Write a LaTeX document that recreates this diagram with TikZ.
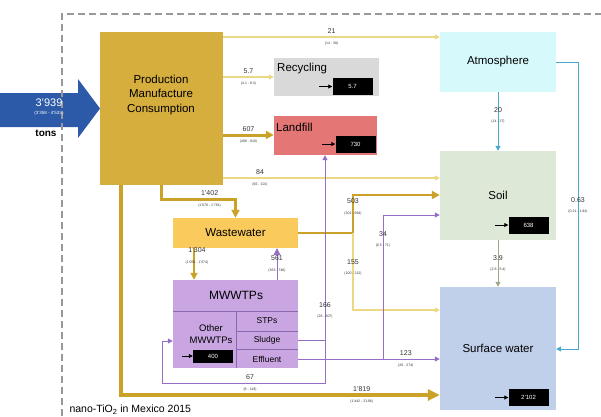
\documentclass[tikz,border=0pt]{standalone}
\usepackage{fontspec}
\setmainfont{Liberation Sans}
\usetikzlibrary{arrows.meta}
\definecolor{prodgold}{RGB}{214,174,62}
\definecolor{goldline}{RGB}{201,162,39}
\definecolor{paleline}{RGB}{234,216,130}
\definecolor{recycgray}{RGB}{217,217,217}
\definecolor{landred}{RGB}{228,118,118}
\definecolor{atmocyan}{RGB}{214,250,252}
\definecolor{soilgreen}{RGB}{221,233,214}
\definecolor{waterblue}{RGB}{192,207,234}
\definecolor{wasteorange}{RGB}{250,202,92}
\definecolor{mwwtpviolet}{RGB}{201,166,226}
\definecolor{mwwtpline}{RGB}{140,105,175}
\definecolor{purpline}{RGB}{150,110,200}
\definecolor{inblue}{RGB}{44,90,168}
\definecolor{skyline}{RGB}{70,170,205}
\definecolor{grayline}{RGB}{160,168,140}
\newcommand{\flowlab}[2]{{\fontsize{7}{7}\selectfont #1}\\[-1.5pt]{\fontsize{3.5}{4}\selectfont #2}}

\begin{document}
\begin{tikzpicture}[x=1pt, y=-1pt,
  box/.style={rectangle, inner sep=0pt, font=\fontsize{11.5}{14.5}\selectfont},
  stock/.style={rectangle, fill=black, text=white, minimum width=40pt, minimum height=17pt, inner sep=0pt, font=\fontsize{6}{7}\selectfont},
  lab/.style={align=center, inner sep=0.5pt, text=black!80},
  paleflow/.style={draw=paleline, line width=1.2pt, -{Triangle[length=5pt,width=5pt]}},
  goldflow/.style={draw=goldline, -{Triangle[length=8pt,width=8pt]}},
  violetflow/.style={draw=purpline, line width=1pt, -{Triangle[length=5pt,width=5pt]}},
  skyflow/.style={draw=skyline, line width=1pt, -{Triangle[length=5pt,width=5pt]}},
  grayflow/.style={draw=grayline, line width=1pt, -{Triangle[length=5pt,width=5pt]}},
  stockarrow/.style={draw=black, line width=0.8pt, -{Triangle[length=4pt,width=4pt]}},
  framedash/.style={draw=black!40, line width=1.5pt, dash pattern=on 7pt off 4pt}]
  \useasboundingbox (0,0) rectangle (601,416);

  % Input arrow
  \fill[inblue] (0,93) -- (78,93) -- (78,79) -- (100,108.5) -- (78,138) -- (78,127) -- (0,127) -- cycle;
  \draw[framedash] (62,416) -- (62,14) -- (601,14);
  \node[text=white, font=\fontsize{11}{11}\selectfont] (inval) at (49,103) {3'939};
  \node[text=white, font=\fontsize{4.5}{5}\selectfont] (inrange) at (49,113) {(3'358 - 4'533)};
  \node[font=\bfseries\fontsize{10}{10}\selectfont] (tons) at (46,133) {tons};

  % Compartments
  \node[box, fill=prodgold, minimum width=123pt, minimum height=153pt] (prod) at (161.5,108.5) {};
  \node[box, align=center] (prodtxt) at (161,95) {Production\\Manufacture\\Consumption};
  \node[box, fill=recycgray, minimum width=105pt, minimum height=38pt] (recyc) at (326.5,77) {};
  \node[box, anchor=west] (recyctxt) at (277,69) {Recycling};
  \node[box, fill=landred, minimum width=103pt, minimum height=39pt] (landf) at (325.5,135.5) {};
  \node[box, anchor=west] (landftxt) at (276,127) {Landfill};
  \node[box, fill=atmocyan, minimum width=116pt, minimum height=60pt] (atmo) at (498,62) {Atmosphere};
  \node[box, fill=soilgreen, minimum width=116pt, minimum height=89pt] (soil) at (498,195.5) {Soil};
  \node[box, fill=waterblue, minimum width=116pt, minimum height=123pt] (surfw) at (498,348.5) {Surface water};
  \node[box, fill=wasteorange, minimum width=125pt, minimum height=30pt] (wastew) at (235.5,233) {Wastewater};
  \node[box, fill=mwwtpviolet, minimum width=125pt, minimum height=88pt] (mwwtp) at (235.5,324) {};

  % MWWTPs inner table
  \draw[mwwtpline, line width=1pt] (mwwtp.west |- 0,311) -- (mwwtp.east |- 0,311);
  \draw[mwwtpline, line width=0.8pt] (236,311) -- (mwwtp.south -| 236,0);
  \draw[mwwtpline, line width=0.8pt] (236,331) -- (mwwtp.east |- 0,331);
  \draw[mwwtpline, line width=0.8pt] (236,349) -- (mwwtp.east |- 0,349);
  \node[font=\fontsize{12}{12}\selectfont] (mwwtptxt) at (236,295) {MWWTPs};
  \node[align=center, font=\fontsize{9.5}{12}\selectfont] (othertxt) at (211,334) {Other\\MWWTPs};
  \node[font=\fontsize{8.5}{9}\selectfont] (stptxt) at (267,321) {STPs};
  \node[font=\fontsize{8.5}{9}\selectfont] (sludgetxt) at (267,340) {Sludge};
  \node[font=\fontsize{8.5}{9}\selectfont] (effltxt) at (267,359) {Effluent};

  % Stocks
  \node[stock] (recycstock) at (352.5,86.5) {5.7};
  \node[stock] (landfstock) at (355.5,144) {730};
  \node[stock] (soilstock) at (528.5,225) {638};
  \node[stock] (surfwstock) at (528.5,397.5) {2'102};
  \node[stock, minimum height=13pt] (otherstock) at (213,356) {400};
  \draw[stockarrow] ([xshift=-13pt]recycstock.west) -- (recycstock.west);
  \draw[stockarrow] ([xshift=-13pt]landfstock.west) -- (landfstock.west);
  \draw[stockarrow] ([xshift=-13pt]soilstock.west) -- (soilstock.west);
  \draw[stockarrow] ([xshift=-13pt]surfwstock.west) -- (surfwstock.west);
  \draw[stockarrow] ([xshift=-11pt]otherstock.west) -- (otherstock.west);

  % Flows out of production
  \draw[paleflow] (prod.east |- 0,37) -- node[lab] (l21) {\flowlab{21}{(14 - 30)}} (atmo.west |- 0,37);
  \draw[paleflow] (prod.east |- 0,77) -- node[lab] (l57) {\flowlab{5.7}{(4.1 - 8.3)}} (recyc.west |- 0,77);
  \draw[goldflow, line width=3pt] (prod.east |- 0,135) -- node[lab] (l607) {\flowlab{607}{(406 - 810)}} (landf.west |- 0,135);
  \draw[paleflow] (prod.east |- 0,178) -- node[lab, pos=0.17] (l84) {\flowlab{84}{(66 - 101)}} (soil.west |- 0,178);
  \draw[goldflow, line width=3pt] (prod.south) -- (161.5,199) -- node[lab, pos=0.65] (l1402) {\flowlab{1'402}{(1'078 - 1'781)}} (wastew.north |- 0,199) -- (wastew.north);
  \draw[goldflow, line width=4pt, -{Triangle[length=12pt,width=11pt]}] (prod.south -| 121,0) -- (121,395) -- node[lab, pos=0.755] (l1819) {\flowlab{1'819}{(1'442 - 2'196)}} (surfw.west |- 0,395);

  % Flows out of wastewater
  \coordinate (wsplit) at (353,233);
  \draw[goldflow, line width=2.5pt] (wastew.east) -- (wsplit) -- node[lab, pos=0.68] (l503) {\flowlab{503}{(302 - 694)}} (353,195) -- (soil.west |- 0,195);
  \draw[paleflow] (wsplit) -- node[lab, pos=0.45] (l155) {\flowlab{155}{(100 - 212)}} (353,310) -- (surfw.west |- 0,310);
  \draw[goldflow, line width=2pt, -{Triangle[length=7pt,width=7pt]}] (wastew.south -| 194,0) -- node[lab, pos=0.25, xshift=3pt] (l1304) {\flowlab{1'304}{(1'050 - 1'574)}} (mwwtp.north -| 194,0);

  % Flows out of MWWTPs
  \draw[violetflow, -{Triangle[length=7pt,width=7pt]}] (mwwtp.north -| 277,0) -- node[lab] (l561) {\flowlab{561}{(363 - 740)}} (wastew.south -| 277,0);
  \coordinate (sjoin) at (325,340);
  \draw[violetflow] (mwwtp.east |- sjoin) -- (sjoin) -- node[lab, pos=0.16] (l166) {\flowlab{166}{(26 - 307)}} (landf.south -| sjoin);
  \draw[violetflow] (sjoin) -- (325,383) -- node[lab, pos=0.46] (l67) {\flowlab{67}{(8 - 119)}} (162,383) -- (162,341) -- (mwwtp.west |- 0,341);
  \draw[violetflow] (mwwtp.east |- 0,359) -- node[lab, pos=0.76] (l123) {\flowlab{123}{(26 - 274)}} (surfw.west |- 0,359);
  \draw[violetflow] (383,359) -- node[lab, pos=0.83] (l34) {\flowlab{34}{(6.5 - 71)}} (383,215) -- (soil.west |- 0,215);

  % Flows between environmental compartments
  \draw[skyflow] (atmo.south) -- node[lab, pos=0.4] (l20) {\flowlab{20}{(14 - 27)}} (soil.north);
  \draw[skyflow] (atmo.east) -- (578,62) -- node[lab] (l063) {\flowlab{0.63}{(0.21 - 1.94)}} (578,349) -- (surfw.east |- 0,349);
  \draw[grayflow] (soil.south) -- node[lab] (l39) {\flowlab{3.9}{(2.8 - 5.4)}} (surfw.north);

  \node[anchor=west, font=\fontsize{10.5}{12}\selectfont] (title) at (66,410) {nano-TiO\textsubscript{2} in Mexico 2015};
\end{tikzpicture}
\end{document}
